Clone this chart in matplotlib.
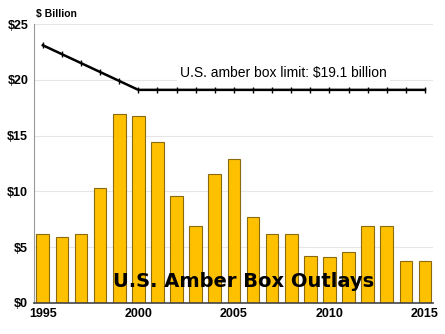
import matplotlib.pyplot as plt
import numpy as np

plt.rcParams['font.family'] = ['Liberation Sans', 'DejaVu Sans']

# %%
years = np.arange(1995, 2016)
outlays = [6.2, 5.9, 6.2, 10.3, 16.9, 16.8, 14.4, 9.6, 6.9, 11.6, 12.9,
           7.7, 6.2, 6.2, 4.2, 4.1, 4.6, 6.9, 6.9, 3.8, 3.8]
limit = [23.1, 22.3, 21.5, 20.7, 19.9, 19.1, 19.1, 19.1, 19.1, 19.1, 19.1,
         19.1, 19.1, 19.1, 19.1, 19.1, 19.1, 19.1, 19.1, 19.1, 19.1]
yticks = [0, 5, 10, 15, 20, 25]
xticks = [1995, 2000, 2005, 2010, 2015]

# %%
fig = plt.figure(figsize=(4.45, 3.34), dpi=100)
ax = fig.add_axes([0.076, 0.093, 0.897, 0.835])

for y in yticks[1:]:
    ax.axhline(y, color='#e6e6e6', linewidth=0.8, zorder=0)

ax.bar(years, outlays, width=0.66, color='#FFC000',
       edgecolor='#8a6a10', linewidth=0.8, zorder=2)
ax.plot(years, limit, color='black', linewidth=1.8, marker='|',
        markersize=4, markeredgewidth=1, zorder=3)

ax.text(2007.6, 20.6, 'U.S. amber box limit: $19.1 billion', fontsize=10,
        ha='center', va='center', color='black',
        bbox=dict(facecolor='white', edgecolor='none', pad=2), zorder=4)
ax.text(2005.5, 1.9, 'U.S. Amber Box Outlays', fontsize=14,
        fontweight='heavy', ha='center', va='center', color='black',
        family='DejaVu Sans', zorder=4)
fig.text(0.081, 0.958, '$ Billion', fontsize=7.5, fontweight='bold',
         ha='left', va='center')

ax.set_xlim(1994.53, 2015.42)
ax.set_ylim(0, 25)
ax.set_yticks(yticks)
ax.set_yticklabels(['$%d' % v for v in yticks], fontsize=9, fontweight='bold')
ax.set_xticks(xticks)
ax.set_xticklabels([str(v) for v in xticks], fontsize=9, fontweight='bold')
ax.tick_params(length=0, pad=4)

for s in ['top', 'right']:
    ax.spines[s].set_visible(False)
ax.spines['left'].set_color('#999999')
ax.spines['bottom'].set_color('#444444')
ax.spines['bottom'].set_linewidth(1.2)

fig.savefig('out.png', dpi=100)
